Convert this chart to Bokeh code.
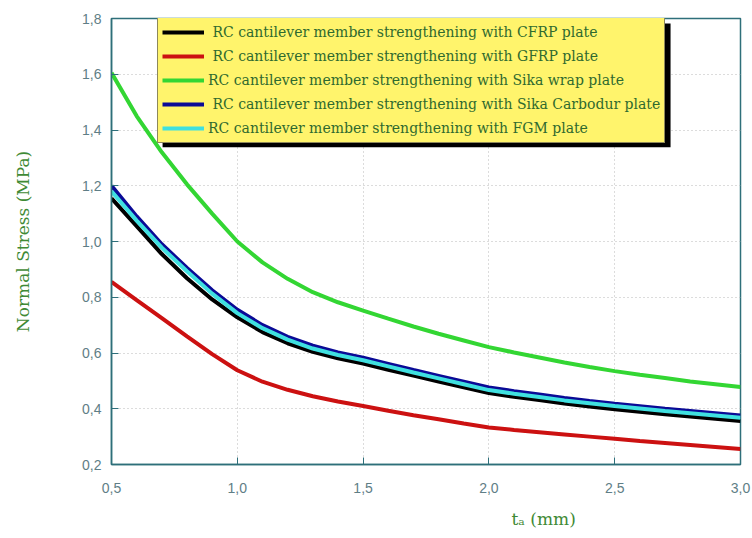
from bokeh.plotting import figure
from bokeh.models import (Legend, LegendItem, BoxAnnotation, Title,
                          CustomJSTickFormatter, FixedTicker, Range1d)
from bokeh.embed import file_html
from bokeh.resources import INLINE

# ---- data ----
t_mm = [0.5, 0.6, 0.7, 0.8, 0.9, 1.0, 1.1, 1.2, 1.3, 1.4, 1.5, 1.6, 1.7,
        1.8, 1.9, 2.0, 2.1, 2.2, 2.3, 2.4, 2.5, 2.6, 2.7, 2.8, 2.9, 3.0]

cfrp = [1.155, 1.055, 0.955, 0.868, 0.792, 0.728, 0.675, 0.635, 0.604, 0.581,
        0.562, 0.54, 0.519, 0.498, 0.477, 0.456, 0.443, 0.431, 0.419, 0.408,
        0.398, 0.389, 0.38, 0.372, 0.364, 0.356]
gfrp = [0.855, 0.79, 0.725, 0.66, 0.596, 0.538, 0.497, 0.468, 0.445, 0.426,
        0.41, 0.393, 0.377, 0.362, 0.347, 0.333, 0.324, 0.316, 0.308, 0.30,
        0.292, 0.284, 0.277, 0.27, 0.263, 0.256]
sika_wrap = [1.605, 1.45, 1.32, 1.205, 1.10, 1.0, 0.925, 0.866, 0.818, 0.782,
             0.752, 0.723, 0.695, 0.669, 0.645, 0.621, 0.602, 0.584, 0.566,
             0.55, 0.535, 0.522, 0.51, 0.498, 0.488, 0.478]
sika_carbodur = [1.20, 1.09, 0.99, 0.905, 0.825, 0.755, 0.70, 0.658, 0.626,
                 0.602, 0.583, 0.561, 0.539, 0.518, 0.497, 0.476, 0.463, 0.451,
                 0.439, 0.428, 0.418, 0.409, 0.40, 0.392, 0.384, 0.376]
fgm = [1.18, 1.075, 0.978, 0.893, 0.813, 0.743, 0.689, 0.648, 0.616, 0.593,
       0.574, 0.552, 0.53, 0.509, 0.488, 0.467, 0.454, 0.442, 0.43, 0.42,
       0.41, 0.401, 0.392, 0.384, 0.376, 0.368]

series_labels = [
    " RC cantilever member strengthening with CFRP plate",
    " RC cantilever member strengthening with GFRP plate",
    "RC cantilever member strengthening with Sika wrap plate",
    " RC cantilever member strengthening with Sika Carbodur plate",
    "RC cantilever member strengthening with FGM plate",
]
series_values = [cfrp, gfrp, sika_wrap, sika_carbodur, fgm]
series_colors = ["#000000", "#cc1111", "#33d633", "#0a0a96", "#3fe0e0"]

x_ticks = [0.5, 1.0, 1.5, 2.0, 2.5, 3.0]
y_ticks = [0.2, 0.4, 0.6, 0.8, 1.0, 1.2, 1.4, 1.6, 1.8]
x_title = "t\u2090 (mm)"
y_title = "Normal Stress (MPa)"

# ---- figure ----
p = figure(frame_width=629, frame_height=446,
           min_border_left=111, min_border_right=12,
           min_border_top=18, min_border_bottom=74,
           x_range=Range1d(0.5, 3.0), y_range=Range1d(0.2, 1.8),
           output_backend="svg", toolbar_location=None)
p.background_fill_color = "white"
p.border_fill_color = "white"
p.outline_line_color = "#2e6f7a"
p.outline_line_width = 1.5

axis_col = "#2e6f7a"
tick_col = "#5f7e86"
fmt = CustomJSTickFormatter(code="return tick.toFixed(1).replace('.', ',');")
for ax, ticks in ((p.xaxis[0], x_ticks), (p.yaxis[0], y_ticks)):
    ax.ticker = FixedTicker(ticks=ticks)
    ax.formatter = fmt
    ax.axis_line_color = axis_col
    ax.axis_line_width = 1.5
    ax.major_tick_line_color = axis_col
    ax.major_tick_in = 7
    ax.major_tick_out = 0
    ax.minor_tick_line_color = None
    ax.major_label_text_color = tick_col
    ax.major_label_text_font = "Liberation Sans"
    ax.major_label_text_font_size = "14px"
p.xaxis.major_label_standoff = 18
p.yaxis.major_label_standoff = 10

p.yaxis.axis_label = y_title
p.yaxis.axis_label_standoff = 46
p.yaxis.axis_label_text_font = "DejaVu Serif"
p.yaxis.axis_label_text_font_size = "17px"
p.yaxis.axis_label_text_font_style = "normal"
p.yaxis.axis_label_text_color = "#3f8a35"

for g in (p.xgrid[0], p.ygrid[0]):
    g.grid_line_color = "#b8b8b8"
    g.grid_line_dash = "1 3"
    g.grid_line_width = 1

renderers = []
for vals, col in zip(series_values, series_colors):
    r = p.line(t_mm, vals, line_color=col, line_width=4)
    renderers.append(r)

# legend shadow (black box offset to the lower right of the legend)
shadow = BoxAnnotation(left=0.703, right=2.722, top=1.782, bottom=1.338,
                       fill_color="black", fill_alpha=1.0, line_color=None)
p.add_layout(shadow)

legend = Legend(items=[LegendItem(label=lab, renderers=[r])
                       for lab, r in zip(series_labels, renderers)],
                location=(46, 321))
legend.background_fill_color = "#fff46c"
legend.background_fill_alpha = 1.0
legend.border_line_color = "#1b1b4a"
legend.border_line_width = 1
legend.label_text_font = "DejaVu Serif"
legend.label_text_font_size = "14px"
legend.label_text_color = "#2f6a2f"
legend.glyph_width = 42
legend.glyph_height = 20
legend.label_height = 20
legend.label_standoff = 4
legend.spacing = 4
legend.padding = 4
legend.margin = 0
p.add_layout(legend, "center")

xt = Title(text=x_title, align="left", offset=400, standoff=23,
           text_font="DejaVu Serif", text_font_size="17px",
           text_font_style="normal", text_color="#3f8a35")
p.add_layout(xt, "below")

open("out.html", "w").write(file_html(p, INLINE))
